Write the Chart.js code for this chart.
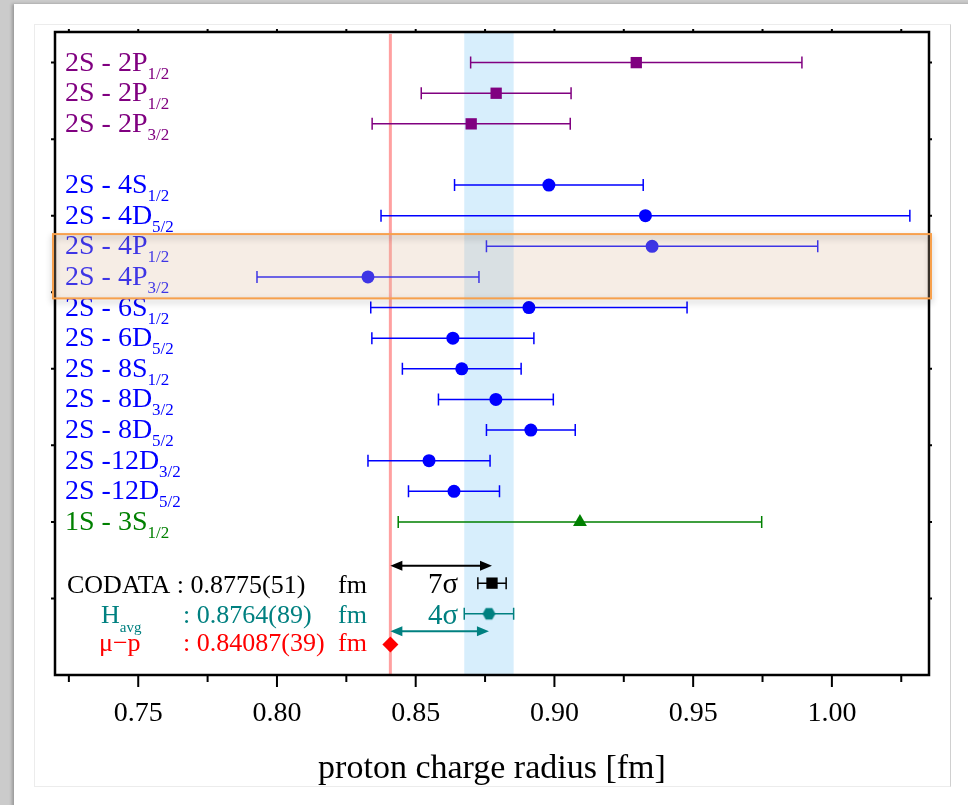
<!DOCTYPE html>
<html>
<head>
<meta charset="utf-8">
<script src="https://cdn.jsdelivr.net/npm/chart.js@4.4.0/dist/chart.umd.min.js"></script>
<style>
  html, body { margin: 0; padding: 0; }
  body { background: #cbcbcb; width: 968px; height: 805px; overflow: hidden; position: relative; }
  #sheet { position: absolute; left: 14px; top: 4px; width: 960px; height: 820px; background: #fff; box-shadow: -2px 0 3px rgba(0,0,0,0.25); }
  #frame { position: absolute; left: 34px; top: 24px; width: 915px; height: 761px; border: 1px solid #ececec; border-right-color: #d0d0d0; }
  #wrap { position: absolute; left: 34px; top: 24px; width: 916px; height: 772px; }
</style>
</head>
<body>
<div id="sheet"></div>
<div id="frame"></div>
<div id="wrap"><canvas id="chart"></canvas></div>
<script>
// transitions, top to bottom
const rowLabels = ['2S - 2P', '2S - 2P', '2S - 2P', '2S - 4S', '2S - 4D', '2S - 4P', '2S - 4P', '2S - 6S',
                   '2S - 6D', '2S - 8S', '2S - 8D', '2S - 8D', '2S -12D', '2S -12D', '1S - 3S'];
const rowSubs = ['1/2', '1/2', '3/2', '1/2', '5/2', '1/2', '3/2', '1/2', '5/2', '1/2', '3/2', '5/2', '3/2', '5/2', '1/2'];
const rowPos = [1, 2, 3, 5, 6, 7, 8, 9, 10, 11, 12, 13, 14, 15, 16];
const radius = [0.9295, 0.8790, 0.8700, 0.8980, 0.9328, 0.9352, 0.8328, 0.8908, 0.8634, 0.8666, 0.8789, 0.8915, 0.8548, 0.8638, 0.9092];
const radiusErr = [0.0597, 0.0270, 0.0357, 0.0340, 0.0953, 0.0597, 0.0400, 0.0570, 0.0292, 0.0214, 0.0207, 0.0160, 0.0220, 0.0164, 0.0655];
const rowGroup = ['2P', '2P', '2P', 'H', 'H', 'H', 'H', 'H', 'H', 'H', 'H', 'H', 'H', 'H', '1S'];

// reference values (CODATA, H average, muonic hydrogen)
const refValue = [0.8775, 0.8764, 0.84087];
const refErr = [0.0051, 0.0089, 0.00039];
const refPos = [18, 19, 20];
const refText = ['0.8775(51)', '0.8764(89)', '0.84087(39)'];

// discrepancy arrows from the muonic value
const sigmaText = ['7σ', '4σ'];
const sigmaTo = [0.8775, 0.8764];
const sigmaPos = [17.43, 19.57];

// highlighted rows (2S - 4P)
const boxFrom = 6.6, boxTo = 8.7;

const xTickValues = [0.725, 0.75, 0.775, 0.8, 0.825, 0.85, 0.875, 0.9, 0.925, 0.95, 0.975, 1.0, 1.025];
const yTickValues = [1, 3.5, 6, 8.5, 11, 13.5, 16, 18.5];

const SERIF = 'Liberation Serif';
const groupColor = { '2P': '#800080', 'H': '#0000ff', '1S': '#008000' };
const TEAL = '#008080';

function rowPoints(group) {
  const pts = [];
  radius.forEach((v, i) => {
    if (rowGroup[i] === group) pts.push({ x: v, y: rowPos[i], err: radiusErr[i] });
  });
  return pts;
}

function refPoint(i) {
  return [{ x: refValue[i], y: refPos[i], err: refErr[i] }];
}

// hexagon marker for the H average
function hexagon(r, color) {
  const c = document.createElement('canvas');
  c.width = c.height = 2 * r + 2;
  const g = c.getContext('2d');
  g.fillStyle = color;
  g.beginPath();
  for (let k = 0; k < 6; k++) {
    const a = Math.PI / 3 * k;
    g.lineTo(r + 1 + r * Math.cos(a), r + 1 + r * Math.sin(a));
  }
  g.closePath();
  g.fill();
  return c;
}

function drawArrow(ctx, x0, x1, y, color) {
  const L = 12, W = 5;
  ctx.save();
  ctx.strokeStyle = color;
  ctx.fillStyle = color;
  ctx.lineWidth = 2;
  ctx.beginPath();
  ctx.moveTo(x0 + L - 2, y);
  ctx.lineTo(x1 - L + 2, y);
  ctx.stroke();
  ctx.beginPath();
  ctx.moveTo(x0, y); ctx.lineTo(x0 + L, y - W); ctx.lineTo(x0 + L, y + W); ctx.closePath();
  ctx.moveTo(x1, y); ctx.lineTo(x1 - L, y - W); ctx.lineTo(x1 - L, y + W); ctx.closePath();
  ctx.fill();
  ctx.restore();
}

// text with a subscript, returns end x
function subText(ctx, main, sub, x, y, size, subSize, subDrop) {
  ctx.font = size + 'px "' + SERIF + '"';
  ctx.fillText(main, x, y);
  const w = ctx.measureText(main).width;
  ctx.font = subSize + 'px "' + SERIF + '"';
  ctx.fillText(sub, x + w, y + subDrop);
  return x + w + ctx.measureText(sub).width;
}

const decorations = {
  id: 'decorations',
  beforeDatasetsDraw(chart) {
    const { ctx, chartArea: a, scales: { x, y } } = chart;
    ctx.save();

    // H average band
    const b0 = x.getPixelForValue(refValue[1] - refErr[1]);
    const b1 = x.getPixelForValue(refValue[1] + refErr[1]);
    ctx.fillStyle = '#d7eefc';
    ctx.fillRect(b0, a.top, b1 - b0, a.bottom - a.top);

    // muonic hydrogen line
    const mx = x.getPixelForValue(refValue[2]);
    ctx.strokeStyle = '#ffa0a0';
    ctx.lineWidth = 3;
    ctx.beginPath();
    ctx.moveTo(mx, a.top + 2);
    ctx.lineTo(mx, a.bottom);
    ctx.stroke();

    // frame and ticks
    ctx.strokeStyle = '#000';
    ctx.lineWidth = 2;
    ctx.beginPath();
    xTickValues.forEach(v => {
      const px = x.getPixelForValue(v);
      const major = Math.abs(v * 20 - Math.round(v * 20)) < 1e-6;
      ctx.moveTo(px, a.bottom);
      ctx.lineTo(px, a.bottom + (major ? 12 : 7));
      ctx.moveTo(px, a.top);
      ctx.lineTo(px, a.top - 3);
    });
    yTickValues.forEach(v => {
      const py = y.getPixelForValue(v);
      ctx.moveTo(a.left, py);
      ctx.lineTo(a.left - 4, py);
      ctx.moveTo(a.right, py);
      ctx.lineTo(a.right + 3, py);
    });
    ctx.stroke();
    ctx.lineWidth = 2.5;
    ctx.strokeRect(a.left, a.top, a.right - a.left, a.bottom - a.top);

    // row labels
    ctx.textAlign = 'left';
    ctx.textBaseline = 'alphabetic';
    rowLabels.forEach((t, i) => {
      const py = y.getPixelForValue(rowPos[i]);
      ctx.fillStyle = groupColor[rowGroup[i]];
      subText(ctx, t, rowSubs[i], a.left + 10, py + 8, 28, 17, 8);
    });

    // reference legend
    const colX = a.left + 128, fmX = a.left + 283;
    ctx.font = '26px "' + SERIF + '"';
    let py = y.getPixelForValue(refPos[0]) + 10;
    ctx.fillStyle = '#000';
    ctx.fillText('CODATA : ' + refText[0], a.left + 12, py);
    ctx.fillText('fm', fmX, py);

    py = y.getPixelForValue(refPos[1]) + 9;
    ctx.fillStyle = TEAL;
    subText(ctx, 'H', 'avg', a.left + 46, py, 26, 15, 9);
    ctx.font = '26px "' + SERIF + '"';
    ctx.fillText(': ' + refText[1], colX, py);
    ctx.fillText('fm', fmX, py);

    py = y.getPixelForValue(refPos[2]) + 7;
    ctx.fillStyle = '#ff0000';
    ctx.fillText('\u03bc\u2212p', a.left + 44, py);
    ctx.fillText(': ' + refText[2], colX, py);
    ctx.fillText('fm', fmX, py);

    // sigma arrows
    const arrowColors = ['#000', TEAL];
    sigmaText.forEach((t, i) => {
      const ay = y.getPixelForValue(sigmaPos[i]);
      drawArrow(ctx, mx, x.getPixelForValue(sigmaTo[i]), ay, arrowColors[i]);
      ctx.fillStyle = arrowColors[i];
      ctx.font = '29px "' + SERIF + '"';
      ctx.textAlign = 'right';
      ctx.fillText(t, b0 - 6, y.getPixelForValue(refPos[i]) + 10);
      ctx.textAlign = 'left';
    });

    // error bars
    chart.data.datasets.forEach(ds => {
      ctx.strokeStyle = ds.backgroundColor;
      ctx.lineWidth = 1.5;
      ds.data.forEach(p => {
        const cy = y.getPixelForValue(p.y);
        const x0 = x.getPixelForValue(p.x - p.err);
        const x1 = x.getPixelForValue(p.x + p.err);
        ctx.beginPath();
        ctx.moveTo(x0, cy); ctx.lineTo(x1, cy);
        ctx.moveTo(x0, cy - 6); ctx.lineTo(x0, cy + 6);
        ctx.moveTo(x1, cy - 6); ctx.lineTo(x1, cy + 6);
        ctx.stroke();
      });
    });
    ctx.restore();
  },
  afterDatasetsDraw(chart) {
    const { ctx, chartArea: a, scales: { y } } = chart;
    const y0 = y.getPixelForValue(boxFrom), y1 = y.getPixelForValue(boxTo);
    const bx = a.left - 2, bw = a.right - a.left + 4;
    ctx.save();
    ctx.fillStyle = 'rgba(222,190,160,0.28)';
    ctx.fillRect(bx, y0, bw, y1 - y0);
    ctx.shadowColor = 'rgba(0,0,0,0.3)';
    ctx.shadowBlur = 6;
    ctx.shadowOffsetY = 3;
    ctx.strokeStyle = '#f7a04c';
    ctx.lineWidth = 2;
    ctx.strokeRect(bx, y0, bw, y1 - y0);
    ctx.restore();
  }
};

new Chart(document.getElementById('chart'), {
  type: 'scatter',
  data: {
    datasets: [
      { data: rowPoints('2P'), backgroundColor: groupColor['2P'], pointStyle: 'rect', pointRadius: 8 },
      { data: rowPoints('H'), backgroundColor: groupColor['H'], pointStyle: 'circle', pointRadius: 6.5 },
      { data: rowPoints('1S'), backgroundColor: groupColor['1S'], pointStyle: 'triangle', pointRadius: 8 },
      { data: refPoint(0), backgroundColor: '#000', pointStyle: 'rect', pointRadius: 8 },
      { data: refPoint(1), backgroundColor: TEAL, pointStyle: hexagon(6.5, TEAL) },
      { data: refPoint(2), backgroundColor: '#ff0000', pointStyle: 'rectRot', pointRadius: 8 }
    ]
  },
  options: {
    responsive: true,
    maintainAspectRatio: false,
    animation: false,
    layout: { padding: { top: 5, right: 21, left: 0, bottom: 0 } },
    elements: { point: { borderWidth: 0 } },
    plugins: { legend: { display: false }, tooltip: { enabled: false } },
    scales: {
      x: {
        type: 'linear', min: 0.72, max: 1.035,
        afterBuildTicks: s => { s.ticks = xTickValues.map(v => ({ value: v })); },
        afterFit: s => { s.height = 121; },
        grid: { display: false, drawTicks: false },
        border: { display: false },
        ticks: {
          autoSkip: false, maxRotation: 0, padding: 22, color: '#000',
          font: { family: SERIF, size: 28 },
          callback: v => (Math.abs(v * 20 - Math.round(v * 20)) < 1e-6 ? v.toFixed(2) : '')
        },
        title: {
          display: true, text: 'proton charge radius [fm]', color: '#000',
          font: { family: SERIF, size: 34 }, padding: { top: 0, bottom: 7 }
        }
      },
      y: {
        type: 'linear', min: 0, max: 21, reverse: true,
        afterBuildTicks: s => { s.ticks = yTickValues.map(v => ({ value: v })); },
        afterFit: s => { s.width = 21; },
        ticks: { display: false },
        grid: { display: false },
        border: { display: false }
      }
    }
  },
  plugins: [decorations]
});
</script>
</body>
</html>
